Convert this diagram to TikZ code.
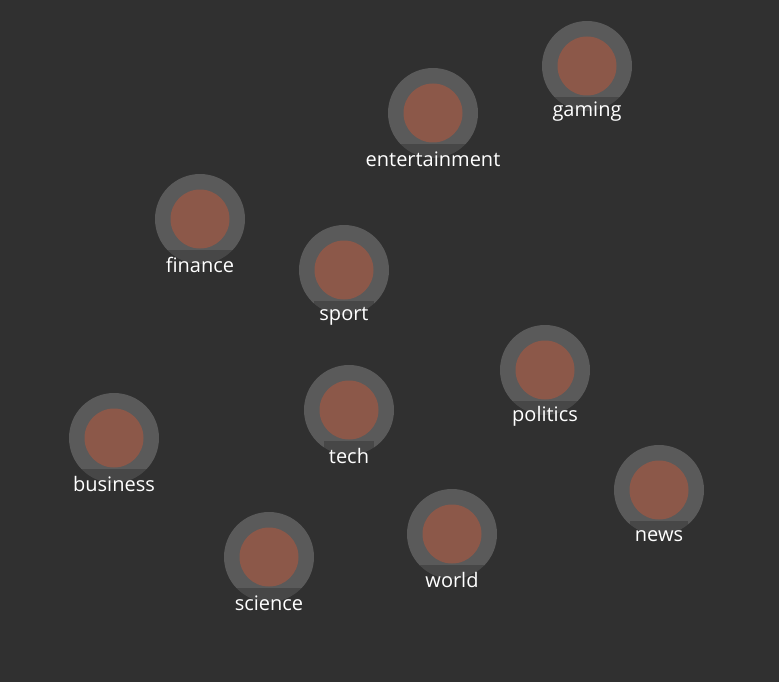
\documentclass[tikz,border=0pt]{standalone}
\usepackage{fontspec}
\setmainfont{Open Sans}
\usetikzlibrary{positioning}
\definecolor{canvasbg}{HTML}{303030}
\definecolor{ringgray}{HTML}{5A5A5A}
\definecolor{coretone}{HTML}{8C5849}
\definecolor{tagtext}{HTML}{FFFFFF}
\tikzset{
  ring/.style={circle,fill=ringgray,minimum size=90pt,inner sep=0pt},
  core/.style={circle,fill=coretone,minimum size=59pt,inner sep=0pt},
  tag/.style={fill=canvasbg,fill opacity=0.45,text opacity=1,text=tagtext,
    font=\fontsize{20}{24}\selectfont,inner sep=0pt,minimum height=30pt,
    inner xsep=5pt}
}
\begin{document}
\begin{tikzpicture}[x=1pt,y=-1pt]
    % Canvas
    \fill[canvasbg] (0,0) rectangle (779,682);
    \useasboundingbox (0,0) rectangle (779,682);

    % Topic bubbles
    \node[ring] (gaming) at (587,66) {};
    \node[core] (gaming-c) at (gaming) {};
    \node[tag] (gaming-l) at ([yshift=-46pt]gaming.center) {gaming};

    \node[ring] (entertainment) at (433,113) {};
    \node[core] (entertainment-c) at (entertainment) {};
    \node[tag] (entertainment-l) at ([yshift=-46pt]entertainment.center) {entertainment};

    \node[ring] (finance) at (200,219) {};
    \node[core] (finance-c) at (finance) {};
    \node[tag] (finance-l) at ([yshift=-46pt]finance.center) {finance};

    \node[ring] (sport) at (344,270) {};
    \node[core] (sport-c) at (sport) {};
    \node[tag] (sport-l) at ([yshift=-46pt]sport.center) {sport};

    \node[ring] (politics) at (545,370) {};
    \node[core] (politics-c) at (politics) {};
    \node[tag] (politics-l) at ([yshift=-46pt]politics.center) {politics};

    \node[ring] (tech) at (349,410) {};
    \node[core] (tech-c) at (tech) {};
    \node[tag] (tech-l) at ([yshift=-46pt]tech.center) {tech};

    \node[ring] (business) at (114,438) {};
    \node[core] (business-c) at (business) {};
    \node[tag] (business-l) at ([yshift=-46pt]business.center) {business};

    \node[ring] (news) at (659,490) {};
    \node[core] (news-c) at (news) {};
    \node[tag] (news-l) at ([yshift=-46pt]news.center) {news};

    \node[ring] (world) at (452,534) {};
    \node[core] (world-c) at (world) {};
    \node[tag] (world-l) at ([yshift=-46pt]world.center) {world};

    \node[ring] (science) at (269,557) {};
    \node[core] (science-c) at (science) {};
    \node[tag] (science-l) at ([yshift=-46pt]science.center) {science};
\end{tikzpicture}
\end{document}
